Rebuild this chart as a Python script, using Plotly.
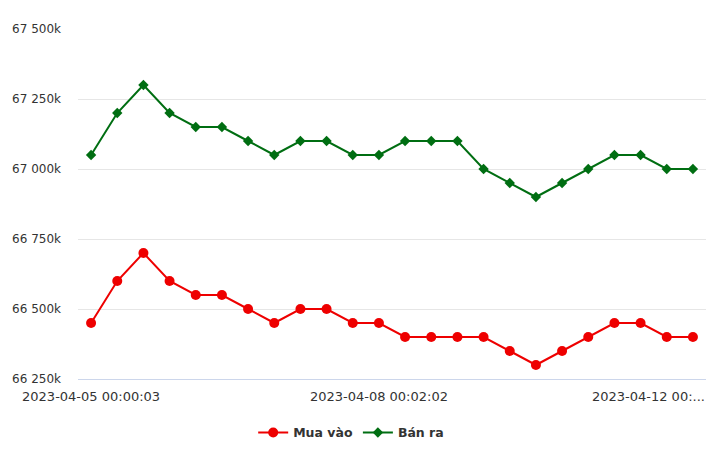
import plotly.graph_objects as go

idx = list(range(24))
mua_vao = [66450, 66600, 66700, 66600, 66550, 66550, 66500, 66450, 66500, 66500, 66450, 66450,
           66400, 66400, 66400, 66400, 66350, 66300, 66350, 66400, 66450, 66450, 66400, 66400]
ban_ra = [67050, 67200, 67300, 67200, 67150, 67150, 67100, 67050, 67100, 67100, 67050, 67050,
          67100, 67100, 67100, 67000, 66950, 66900, 66950, 67000, 67050, 67050, 67000, 67000]
x_tick_vals = [0, 11, 21.3]
x_tick_text = ["2023-04-05 00:00:03", "2023-04-08 00:02:02", "2023-04-12 00:..."]
y_tick_vals = [66250, 66500, 66750, 67000, 67250, 67500]
y_tick_text = ["66 250k", "66 500k", "66 750k", "67 000k", "67 250k", "67 500k"]

font = "DejaVu Sans, Verdana, sans-serif"

fig = go.Figure()
fig.add_trace(go.Scatter(x=idx, y=mua_vao, name="Mua vào", mode="lines+markers",
                         line=dict(color="#ee0000", width=2),
                         marker=dict(symbol="circle", size=10, color="#ee0000")))
fig.add_trace(go.Scatter(x=idx, y=ban_ra, name="Bán ra", mode="lines+markers",
                         line=dict(color="#006e12", width=2),
                         marker=dict(symbol="diamond", size=8, color="#006e12")))

fig.update_layout(
    width=712, height=451,
    margin=dict(l=70, r=14, t=21, b=80),
    plot_bgcolor="white", paper_bgcolor="white",
    font=dict(family=font, size=12, color="#333333"),
    showlegend=True,
    legend=dict(orientation="h", x=0.482, xanchor="center", xref="container",
                y=0.058, yanchor="middle", yref="container",
                font=dict(family=font, size=12.5, color="#333333", weight="bold"),
                itemwidth=30, traceorder="normal"),
    xaxis=dict(range=[-0.5, 23.5], tickvals=x_tick_vals, ticktext=x_tick_text,
               showgrid=False, zeroline=False, showline=True, linecolor="#ccd6eb",
               linewidth=1, ticks="", ticklabelstandoff=5, automargin=False,
               tickfont=dict(size=13, color="#333333")),
    yaxis=dict(range=[66250, 67500], tickvals=y_tick_vals, ticktext=y_tick_text,
               showgrid=True, gridcolor="#e6e6e6", gridwidth=1, zeroline=False,
               showline=False, ticks="", ticklabelstandoff=16, automargin=False,
               tickfont=dict(size=12, color="#333333")),
)

fig.write_html("out.html")
